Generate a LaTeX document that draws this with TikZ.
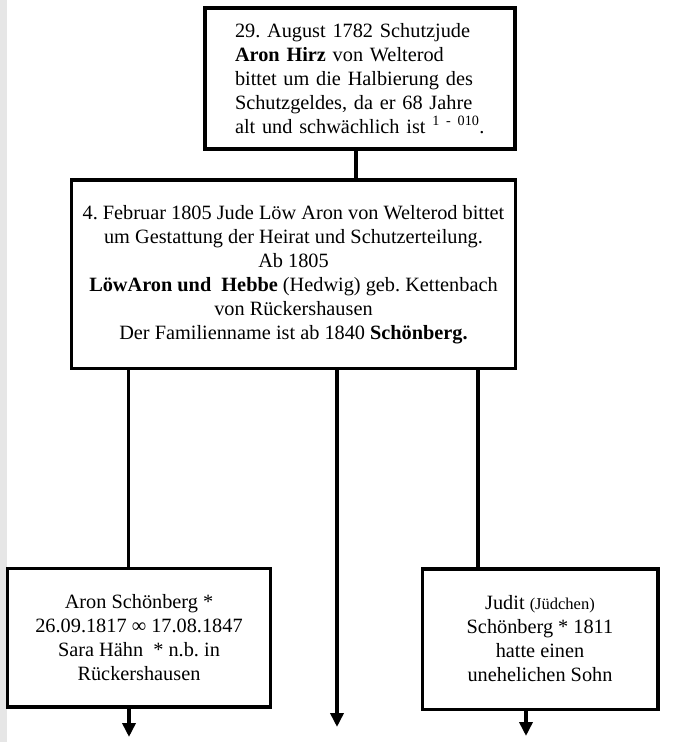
\documentclass[tikz,border=0pt]{standalone}
\usepackage{fontspec}
\setmainfont{Liberation Serif}
\usetikzlibrary{arrows.meta,positioning}
\definecolor{framegrey}{RGB}{230,230,230}
\tikzset{
  recordbox/.style={draw=black,line width=3.5pt,fill=white,inner sep=0pt,
    font=\fontsize{20.3}{24}\selectfont},
  link/.style={line width=3.5pt,draw=black},
  linkdown/.style={link,-{Triangle[length=14pt,width=13pt]}}
}
\frenchspacing

\begin{document}
\begin{tikzpicture}[x=1pt,y=-1pt]
  \useasboundingbox (0,0) rectangle (681,742);
  \fill[framegrey] (0,0) rectangle (7,742);
  \node[recordbox,minimum width=310pt,minimum height=141pt,
    text width=250pt,align=left] (hirz) at (360,78.5)
    {29. August 1782 Schutzjude\\
     \textbf{Aron Hirz} von Welterod\\
     bittet um die Halbierung des\\
     Schutzgeldes, da er 68 Jahre\\
     alt und schwächlich ist \textsuperscript{1 - 010}.};
  \node[recordbox,minimum width=444pt,minimum height=188.5pt,
    align=center] (loew) at (293.5,274.25)
    {4. Februar 1805 Jude Löw Aron von Welterod bittet\\
     um Gestattung der Heirat und Schutzerteilung.\\
     Ab 1805\\
     \textbf{LöwAron und\ \ Hebbe} (Hedwig) geb. Kettenbach\\
     von Rückershausen\\
     Der Familienname ist ab 1840 \textbf{Schönberg.}};
  \node[recordbox,minimum width=263pt,minimum height=138.5pt,
    align=center] (aron) at (139,637.75)
    {Aron Schönberg *\\
     26.09.1817 ∞ 17.08.1847\\
     Sara Hähn\ \ * n.b. in\\
     Rückershausen};
  \node[recordbox,minimum width=235.5pt,minimum height=140.5pt,
    align=center] (judit) at (540,639)
    {Judit {\fontsize{16.5}{24}\selectfont (Jüdchen)}\\
     Schönberg * 1811\\
     hatte einen\\
     unehelichen Sohn};
  % ends of the open arrows
  \coordinate (midend) at (337,727);
  \coordinate (aronend) at (129,737);
  \coordinate (juditend) at (526,736);
  \draw[link] ([xshift=-4pt]hirz.south) -- ([xshift=-4pt]hirz.south |- loew.north);
  \draw[link] ([xshift=-10.5pt]aron.north) -- ([xshift=-10.5pt]aron.north |- loew.south);
  \draw[link] ([xshift=-62pt]judit.north) -- ([xshift=-62pt]judit.north |- loew.south);
  \draw[linkdown] (loew.south -| midend) -- (midend);
  \draw[linkdown] (aron.south -| aronend) -- (aronend);
  \draw[linkdown] (judit.south -| juditend) -- (juditend);
\end{tikzpicture}
\end{document}
